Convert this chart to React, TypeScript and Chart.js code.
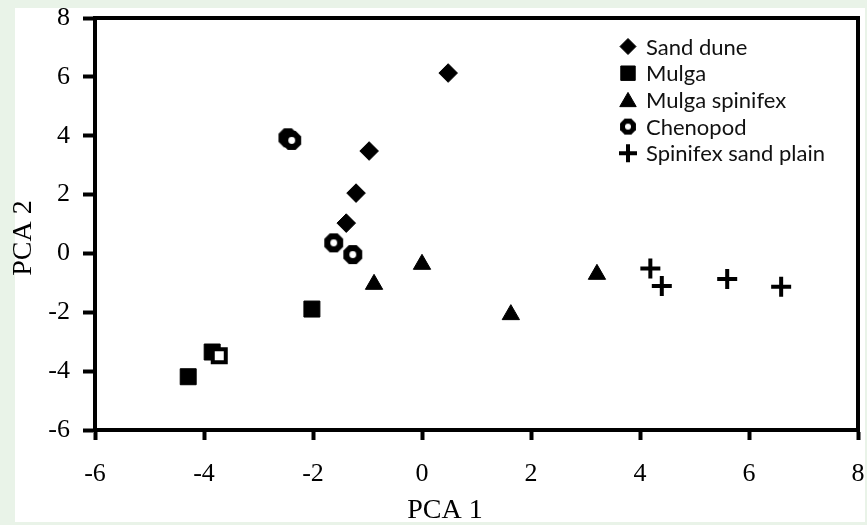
import React, { useEffect, useRef } from 'react';
import { Chart, registerables } from 'chart.js';
import { drawPoint } from 'chart.js/helpers';

Chart.register(...registerables);

// ---- data ----
const seriesNames = ['Sand dune', 'Mulga', 'Mulga spinifex', 'Chenopod', 'Spinifex sand plain'];
const sandDuneX = [0.48, -0.97, -1.21, -1.39];
const sandDuneY = [6.13, 3.48, 2.05, 1.03];
const mulgaX = [-4.29, -2.02, -3.85, -3.72];
const mulgaY = [-4.19, -1.89, -3.35, -3.48];
const mulgaSpinifexX = [-0.88, 0.0, 3.21, 1.63];
const mulgaSpinifexY = [-1.05, -0.37, -0.71, -2.08];
const chenopodX = [-2.46, -2.39, -1.62, -1.27];
const chenopodY = [3.93, 3.84, 0.36, -0.04];
const spinifexX = [4.19, 4.4, 5.6, 6.59];
const spinifexY = [-0.51, -1.11, -0.87, -1.13];
const xTicks = [-6, -4, -2, 0, 2, 4, 6, 8];
const yTicks = [-6, -4, -2, 0, 2, 4, 6, 8];
const xTitle = 'PCA 1';
const yTitle = 'PCA 2';

const SERIF = "'Liberation Serif', 'Times New Roman', serif";
const SANS = "Lato, 'Open Sans', sans-serif";

function pts(xs: number[], ys: number[]) {
  return xs.map((x, i) => ({ x, y: ys[i] }));
}

function makeOctagon(outer: number, hole: number): HTMLCanvasElement {
  const size = Math.ceil(outer * 2 + 2);
  const c = document.createElement('canvas');
  c.width = size;
  c.height = size;
  const ctx = c.getContext('2d')!;
  const cx = size / 2;
  const cy = size / 2;
  ctx.fillStyle = '#000';
  ctx.beginPath();
  for (let i = 0; i < 8; i++) {
    const a = Math.PI / 8 + (i * Math.PI) / 4;
    const px = cx + Math.cos(a) * outer;
    const py = cy + Math.sin(a) * outer;
    if (i === 0) ctx.moveTo(px, py);
    else ctx.lineTo(px, py);
  }
  ctx.closePath();
  ctx.fill();
  ctx.fillStyle = '#fff';
  ctx.beginPath();
  ctx.arc(cx, cy, hole, 0, Math.PI * 2);
  ctx.fill();
  return c;
}

function clearScalePadding(scale: any) {
  scale.paddingTop = 0;
  scale.paddingBottom = 0;
  scale.paddingLeft = 0;
  scale.paddingRight = 0;
}

export default function App() {
  const ref = useRef<HTMLCanvasElement | null>(null);

  useEffect(() => {
    if (!ref.current) return;
    const octPlot = makeOctagon(10.2, 3.4);
    const octLegend = makeOctagon(8.6, 3.0);

    const legendStyles: any[] = [
      { pointStyle: 'rectRot', radius: 8, borderWidth: 1 },
      { pointStyle: 'rect', radius: 10.2, borderWidth: 1 },
      { pointStyle: 'triangle', radius: 9.5, borderWidth: 1, dy: 2 },
      { pointStyle: octLegend, radius: 8, borderWidth: 0 },
      { pointStyle: 'cross', radius: 9, borderWidth: 4 },
    ];

    const backgroundPlugin = {
      id: 'bgPanel',
      beforeDraw(chart: any) {
        const ctx = chart.ctx;
        ctx.save();
        ctx.fillStyle = '#e9f3e8';
        ctx.fillRect(0, 0, chart.width, chart.height);
        ctx.fillStyle = '#ffffff';
        ctx.fillRect(15, 8, 850, 514);
        ctx.restore();
      },
    };

    const framePlugin = {
      id: 'frame',
      beforeDatasetsDraw(chart: any) {
        const { ctx, chartArea } = chart;
        ctx.save();
        ctx.strokeStyle = '#000';
        ctx.lineWidth = 4;
        ctx.beginPath();
        ctx.moveTo(chartArea.left - 2, chartArea.top);
        ctx.lineTo(chartArea.right, chartArea.top);
        ctx.lineTo(chartArea.right, chartArea.bottom + 2);
        ctx.stroke();
        ctx.restore();
      },
    };

    const legendPlugin = {
      id: 'insideLegend',
      afterDraw(chart: any) {
        const ctx = chart.ctx;
        ctx.save();
        const markerX = 628;
        const textX = 646;
        const top = 46.5;
        const gap = 26.7;
        chart.data.datasets.forEach((ds: any, i: number) => {
          const y = top + i * gap;
          const st = legendStyles[i];
          ctx.fillStyle = '#000';
          ctx.strokeStyle = '#000';
          ctx.lineWidth = st.borderWidth;
          drawPoint(ctx, { pointStyle: st.pointStyle, radius: st.radius, rotation: 0, borderWidth: st.borderWidth } as any, markerX, y + (st.dy || 0));
          ctx.fillStyle = '#111';
          ctx.font = `22px ${SANS}`;
          ctx.textAlign = 'left';
          ctx.textBaseline = 'middle';
          ctx.fillText(ds.label, textX, y + 1);
        });
        ctx.restore();
      },
    };

    const chart = new Chart(ref.current, {
      type: 'scatter',
      data: {
        datasets: [
          {
            label: seriesNames[0],
            data: pts(sandDuneX, sandDuneY),
            pointStyle: 'rectRot',
            pointRadius: 9.3,
            pointBorderWidth: 1,
            backgroundColor: '#000',
            borderColor: '#000',
          },
          {
            label: seriesNames[1],
            data: pts(mulgaX, mulgaY),
            pointStyle: 'rect',
            pointRadius: [11.3, 11.3, 11.3, 9.2],
            pointBorderWidth: [1, 1, 1, 4],
            pointBackgroundColor: ['#000', '#000', '#000', '#fff'],
            backgroundColor: '#000',
            borderColor: '#000',
          },
          {
            label: seriesNames[2],
            data: pts(mulgaSpinifexX, mulgaSpinifexY),
            pointStyle: 'triangle',
            pointRadius: 10,
            pointBorderWidth: 1,
            backgroundColor: '#000',
            borderColor: '#000',
          },
          {
            label: seriesNames[3],
            data: pts(chenopodX, chenopodY),
            pointStyle: octPlot as any,
            pointRadius: 10,
            pointBorderWidth: 0,
            backgroundColor: '#000',
            borderColor: '#000',
          },
          {
            label: seriesNames[4],
            data: pts(spinifexX, spinifexY),
            pointStyle: 'cross',
            pointRadius: 10,
            pointBorderWidth: 4,
            backgroundColor: '#000',
            borderColor: '#000',
          },
        ],
      },
      options: {
        animation: false,
        responsive: false,
        maintainAspectRatio: false,
        layout: { autoPadding: false, padding: { left: 0, top: 18, right: 9, bottom: 0 } },
        plugins: {
          legend: { display: false },
          tooltip: { enabled: false },
        },
        scales: {
          x: {
            type: 'linear',
            min: -6,
            max: 8,
            afterBuildTicks: (scale: any) => {
              scale.ticks = xTicks.map((v) => ({ value: v }));
            },
            afterFit: (scale: any) => {
              scale.height = 95;
              clearScalePadding(scale);
            },
            ticks: {
              font: { family: SERIF, size: 26 },
              color: '#000',
              padding: 19,
              maxRotation: 0,
              autoSkip: false,
            },
            grid: {
              drawOnChartArea: false,
              drawTicks: true,
              tickLength: 10,
              tickWidth: 4,
              tickColor: '#000',
              color: '#000',
            },
            border: { display: true, color: '#000', width: 4 },
            title: {
              display: true,
              text: xTitle + '         ',
              font: { family: SERIF, size: 28, lineHeight: 1 },
              color: '#000',
              padding: 0,
            },
          },
          y: {
            type: 'linear',
            min: -6,
            max: 8,
            afterBuildTicks: (scale: any) => {
              scale.ticks = yTicks.map((v) => ({ value: v }));
            },
            afterFit: (scale: any) => {
              scale.width = 95;
              clearScalePadding(scale);
            },
            ticks: {
              font: { family: SERIF, size: 26 },
              color: '#000',
              padding: 13,
              autoSkip: false,
            },
            grid: {
              drawOnChartArea: false,
              drawTicks: true,
              tickLength: 12,
              tickWidth: 4,
              tickColor: '#000',
              color: '#000',
            },
            border: { display: true, color: '#000', width: 4 },
            title: {
              display: true,
              text: yTitle + '    ',
              font: { family: SERIF, size: 28, lineHeight: 1 },
              color: '#000',
              padding: { top: 10, bottom: 0 },
            },
          },
        },
      },
      plugins: [backgroundPlugin, framePlugin, legendPlugin],
    });

    return () => {
      chart.destroy();
    };
  }, []);

  return (
    <div style={{ position: 'absolute', left: 0, top: 0, width: 867, height: 525, overflow: 'hidden' }}>
      <canvas ref={ref} width={867} height={525} style={{ display: 'block', width: 867, height: 525 }} />
    </div>
  );
}
